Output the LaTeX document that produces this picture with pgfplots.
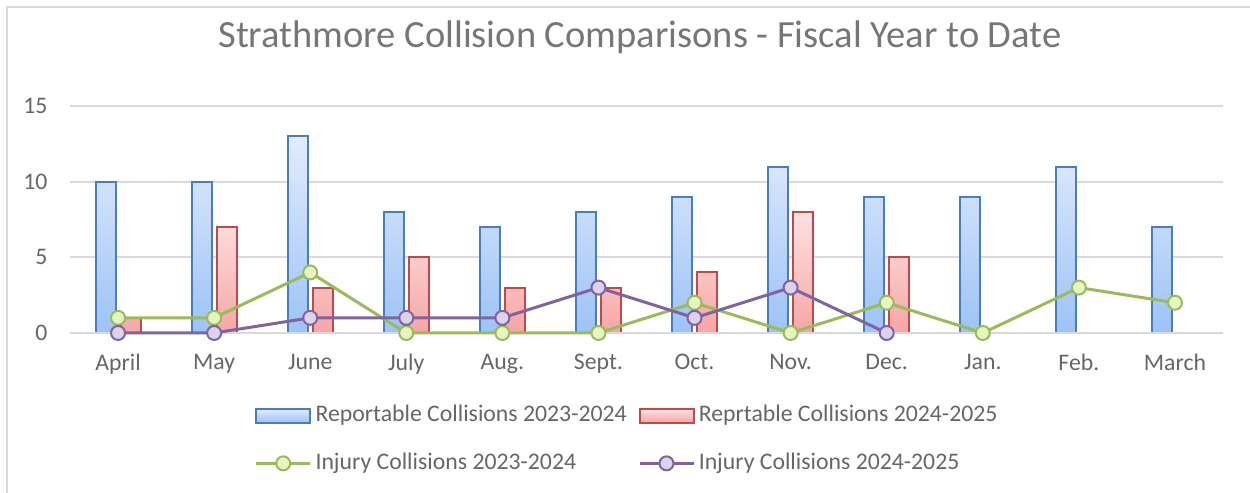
\documentclass[border=0pt]{standalone}
\usepackage{fontspec}
\setmainfont{Carlito}
\usepackage{pgfplots}
\pgfplotsset{compat=1.18}
\definecolor{txtgray}{HTML}{666666}
\definecolor{titlegray}{HTML}{767676}
\definecolor{gridgray}{HTML}{D9D9D9}
\definecolor{blueline}{HTML}{4A7EBB}
\definecolor{bluetop}{HTML}{E1ECFD}
\definecolor{bluebot}{HTML}{9DC3F5}
\definecolor{redline}{HTML}{BE4B48}
\definecolor{redtop}{HTML}{FDE2E2}
\definecolor{redbot}{HTML}{F6A5A5}
\definecolor{greenline}{HTML}{9BBB59}
\definecolor{greenfill}{HTML}{E4F5C2}
\definecolor{purpleline}{HTML}{8064A2}
\definecolor{purplefill}{HTML}{DCD3EA}
\pgfplotsset{
  barleg/.style 2 args={legend image code/.code={\draw[##1, top color=#1, bottom color=#2] (0pt,-2.8pt) rectangle (21.6pt,2.8pt);}},
  lineleg/.style={legend image code/.code={\draw[##1, mark repeat=2, mark phase=2] plot coordinates {(0pt,0pt) (10.8pt,0pt) (21.6pt,0pt)};}},
}
\begin{document}
\begin{tikzpicture}
\path[use as bounding box] (0,0) rectangle (500pt,197.2pt);
\draw[gridgray, line width=0.8pt] (2.8pt,0) -- (2.8pt,194.4pt) -- (500pt,194.4pt);
\node[text=titlegray, font=\fontsize{15.4}{18}\selectfont] at (256pt,182.4pt) {Strathmore Collision Comparisons - Fiscal Year to Date};
\begin{axis}[
  at={(28pt,64pt)}, anchor=south west,
  scale only axis, width=461.2pt, height=90.8pt,
  xmin=-0.5, xmax=11.5, ymin=0, ymax=15,
  axis line style={draw=none},
  tick style={draw=none},
  xtick={0,...,11},
  xticklabels={April,May,June,July,Aug.,Sept.,Oct.,Nov.,Dec.,Jan.,Feb.,March},
  ytick={0,5,10,15},
  ymajorgrids, grid style={gridgray, line width=0.8pt},
  /pgf/number format/assume math mode=true,
  tick label style={text=txtgray, font=\fontsize{9.5}{11}\selectfont},
  xticklabel style={yshift=-5pt},
  yticklabel style={xshift=-5.5pt},
  clip=false,
  legend columns=2,
  legend style={at={(223.2pt,-42.6pt)}, anchor=center, draw=none, fill=none,
    font=\fontsize{9.5}{11}\selectfont, text=txtgray,
    /tikz/every even column/.append style={column sep=3pt},
    row sep=8pt, nodes={inner sep=1.5pt}},
  legend cell align=left,
]
\addplot[ybar, bar width=8pt, bar shift=-5pt, draw=blueline, line width=0.8pt,
  top color=bluetop, bottom color=bluebot, barleg={bluetop}{bluebot}]
  coordinates {(0,10) (1,10) (2,13) (3,8) (4,7) (5,8) (6,9) (7,11) (8,9) (9,9) (10,11) (11,7)};
\addlegendentry{Reportable Collisions 2023-2024}
\addplot[ybar, bar width=8pt, bar shift=5pt, draw=redline, line width=0.8pt,
  top color=redtop, bottom color=redbot, barleg={redtop}{redbot}]
  coordinates {(0,1) (1,7) (2,3) (3,5) (4,3) (5,3) (6,4) (7,8) (8,5)};
\addlegendentry{Reprtable Collisions 2024-2025}
\draw[gridgray, line width=1pt] (axis cs:-0.5,0) -- (axis cs:11.5,0);
\addplot[greenline, line width=1.2pt, mark=*, mark size=2.8pt,
  mark options={fill=greenfill, draw=greenline, line width=0.8pt}, lineleg]
  coordinates {(0,1) (1,1) (2,4) (3,0) (4,0) (5,0) (6,2) (7,0) (8,2) (9,0) (10,3) (11,2)};
\addlegendentry{Injury Collisions 2023-2024}
\addplot[purpleline, line width=1.2pt, mark=*, mark size=2.8pt,
  mark options={fill=purplefill, draw=purpleline, line width=0.8pt}, lineleg]
  coordinates {(0,0) (1,0) (2,1) (3,1) (4,1) (5,3) (6,1) (7,3) (8,0)};
\addlegendentry{Injury Collisions 2024-2025}
\end{axis}
\end{tikzpicture}
\end{document}
